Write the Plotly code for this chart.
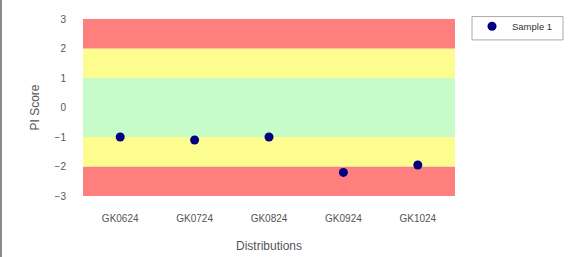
import plotly.graph_objects as go

categories = ["GK0624", "GK0724", "GK0824", "GK0924", "GK1024"]
sample1 = [-1.0, -1.1, -1.0, -2.2, -1.95]
band_edges = [-3, -2, -1, 1, 2, 3]
band_colors = ["#FF7F7F", "#FDFC8F", "#C7FCC8", "#FDFC8F", "#FF7F7F"]
y_ticks = [-3, -2, -1, 0, 1, 2, 3]

W, H = 570, 257
ml, mr, mt, mb = 83, 115, 14, 61
pw = W - ml - mr
ph = H - mt - mb


def px_x(p):
    return (p - ml) / pw


def px_y(p):
    return 1 - (p - mt) / ph


fig = go.Figure()
fig.add_trace(go.Scatter(
    x=categories, y=sample1, mode="markers", name="Sample 1",
    marker=dict(color="#000080", size=9),
))

shapes = []
for i, c in enumerate(band_colors):
    shapes.append(dict(type="rect", xref="paper", yref="y", x0=0, x1=1,
                       y0=band_edges[i], y1=band_edges[i + 1],
                       fillcolor=c, line=dict(width=0), layer="below"))
# left border of the page
shapes.append(dict(type="line", xref="paper", yref="paper",
                   x0=px_x(1), x1=px_x(1), y0=px_y(H + 20), y1=px_y(-20),
                   line=dict(color="#8a8a8a", width=2)))
# legend frame
shapes.append(dict(type="rect", xref="paper", yref="paper",
                   x0=px_x(472), x1=px_x(563), y0=px_y(35.5), y1=px_y(11.5),
                   line=dict(color="#aaaaaa", width=1), fillcolor="rgba(0,0,0,0)"))
fig.update_layout(shapes=shapes)

fig.update_layout(
    width=W, height=H,
    margin=dict(l=ml, r=mr, t=mt, b=mb, pad=0),
    paper_bgcolor="white", plot_bgcolor="white",
    font=dict(family="Liberation Sans, Arial, sans-serif", color="#555", size=10),
    showlegend=True,
    legend=dict(x=px_x(472), y=px_y(6.5), xanchor="left", yanchor="top",
                borderwidth=0, font=dict(size=9.5, color="#333"),
                bgcolor="rgba(0,0,0,0)"),
    xaxis=dict(range=[-0.5, 4.5], showgrid=False, zeroline=False, showline=False,
               automargin=False,
               ticks="outside", ticklen=13, tickcolor="rgba(0,0,0,0)",
               tickfont=dict(size=10, color="#555"),
               title=dict(text="Distributions", font=dict(size=12, color="#555"), standoff=18)),
    yaxis=dict(range=[-3, 3], tickvals=y_ticks, showgrid=False, zeroline=False,
               showline=False, automargin=False,
               ticks="outside", ticklen=14, tickcolor="rgba(0,0,0,0)",
               tickfont=dict(size=10, color="#555"),
               title=dict(text="PI Score", font=dict(size=12, color="#555"), standoff=12)),
)

fig.write_html("out.html", config={"displayModeBar": False},
               post_script="document.body.style.margin='0px';")
